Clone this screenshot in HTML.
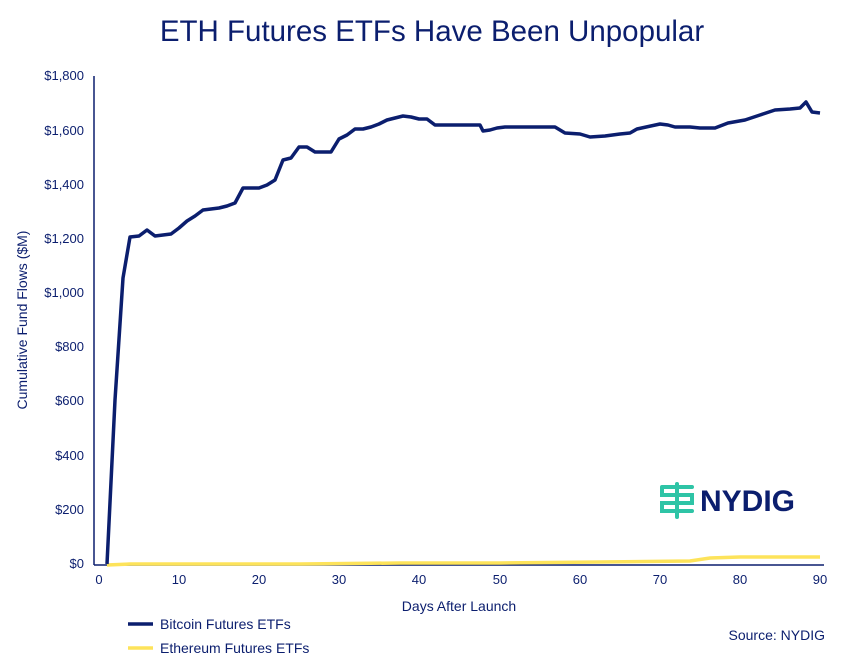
<!DOCTYPE html>
<html><head><meta charset="utf-8"><style>
body{margin:0;background:#fff;font-family:"Liberation Sans",sans-serif;}
</style></head><body>
<svg width="865" height="661" viewBox="0 0 865 661" xmlns="http://www.w3.org/2000/svg" font-family="Liberation Sans, sans-serif">
<rect width="865" height="661" fill="#fff"/>
<text x="432" y="41" font-size="29.5" fill="#0b1e6e" text-anchor="middle">ETH Futures ETFs Have Been Unpopular</text>
<line x1="94" y1="76" x2="94" y2="565" stroke="#0b1e6e" stroke-width="1.5"/>
<line x1="94" y1="565" x2="824" y2="565" stroke="#0b1e6e" stroke-width="1.5"/>
<g font-size="13" fill="#0b1e6e" text-anchor="end">
<text x="84" y="568">$0</text><text x="84" y="514">$200</text><text x="84" y="460">$400</text>
<text x="84" y="405">$600</text><text x="84" y="351">$800</text><text x="84" y="297">$1,000</text>
<text x="84" y="243">$1,200</text><text x="84" y="189">$1,400</text><text x="84" y="135">$1,600</text>
<text x="84" y="80">$1,800</text>
</g>
<g font-size="13" fill="#0b1e6e" text-anchor="middle">
<text x="99" y="584">0</text><text x="179" y="584">10</text><text x="259" y="584">20</text>
<text x="339" y="584">30</text><text x="419" y="584">40</text><text x="500" y="584">50</text>
<text x="580" y="584">60</text><text x="660" y="584">70</text><text x="740" y="584">80</text>
<text x="820" y="584">90</text>
<text x="459" y="611" font-size="14">Days After Launch</text>
</g>
<text transform="translate(27,320) rotate(-90)" font-size="14" fill="#0b1e6e" text-anchor="middle">Cumulative Fund Flows ($M)</text>
<polyline fill="none" stroke="#fde35a" stroke-width="3.5" points="107,565 130,564 300,564 400,563 500,563 600,562 690,561 710,558 740,557 820,557"/>
<polyline fill="none" stroke="#0b1e6e" stroke-width="3.5" stroke-linejoin="round" points="107,564 115,400 123,278 130,237 139,236 147,230 155,236 163,235 171,234 179,228 187,221 195,216 203,210 211,209 219,208 227,206 235,203 243,188 251,188 259,188 267,185 275,180 283,160 291,158 299,147 307,147 315,152 323,152 331,152 339,139 347,135 355,129 363,129 371,127 379,124 387,120 395,118 403,116 411,117 419,119 427,119 435,125 480,125 483,131 490,130 497,128 505,127 555,127 565,133 580,134 590,137 605,136 620,134 630,133 637,129 660,124 668,125 675,127 690,127 700,128 715,128 728,123 745,120 760,115 775,110 790,109 800,108 806,102 812,112 820,113"/>
<g stroke="#2ec4a6" stroke-width="4" fill="none" stroke-linecap="round">
<path d="M662,487 H692 M662,487 v8 H692 v8 H662 v8 H692 M662,511 H692"/>
<line x1="677" y1="484" x2="677" y2="517"/>
</g>
<text x="700" y="511" font-size="30" font-weight="bold" fill="#0b1e6e">NYDIG</text>
<line x1="128" y1="624" x2="153" y2="624" stroke="#0b1e6e" stroke-width="3.5"/>
<text x="160" y="629" font-size="14" fill="#0b1e6e">Bitcoin Futures ETFs</text>
<line x1="128" y1="648" x2="153" y2="648" stroke="#fde35a" stroke-width="3.5"/>
<text x="160" y="653" font-size="14" fill="#0b1e6e">Ethereum Futures ETFs</text>
<text x="825" y="640" font-size="14" fill="#0b1e6e" text-anchor="end">Source: NYDIG</text>
</svg>
</body></html>
